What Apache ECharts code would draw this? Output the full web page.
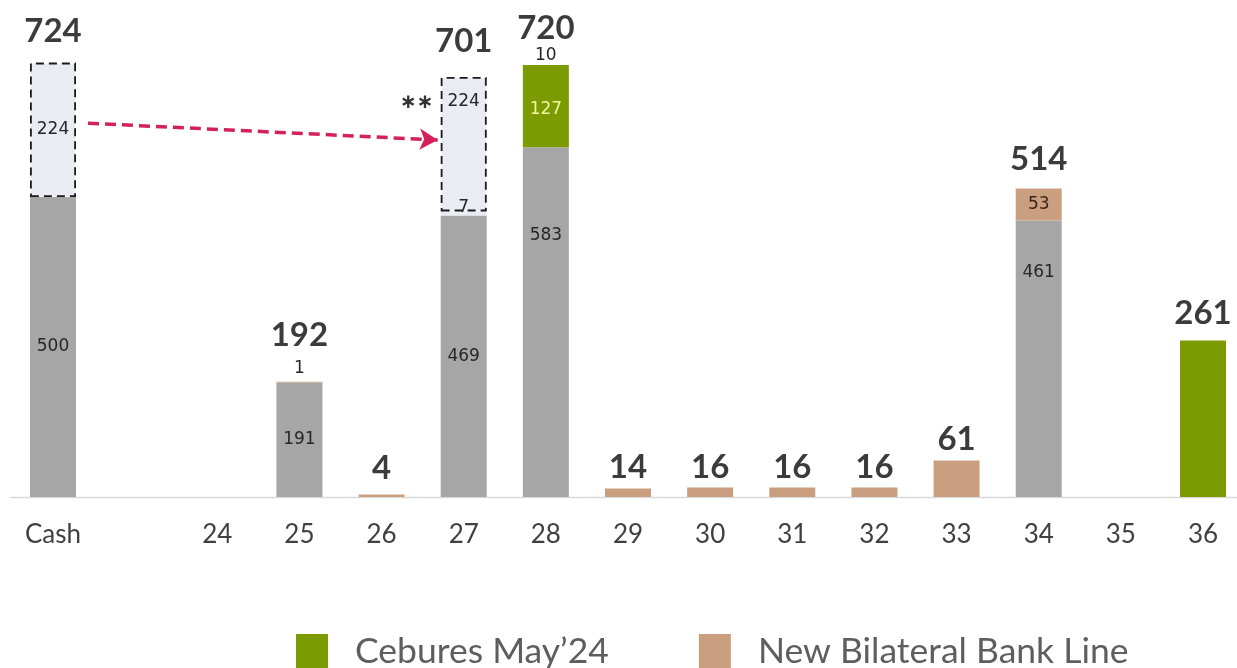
<!DOCTYPE html>
<html>
<head>
<meta charset="utf-8">
<script src="https://cdn.jsdelivr.net/npm/echarts@6/dist/echarts.min.js"></script>
<style>
  html, body { margin: 0; padding: 0; background: #ffffff; }
  #chart { width: 1237px; height: 668px; }
</style>
</head>
<body>
<div id="chart"></div>
<script>
// Debt maturity profile (USD mn) by year, with available cash
const categories = ['Cash', '', '24', '25', '26', '27', '28', '29', '30', '31', '32', '33', '34', '35', '36'];

// Existing maturities (grey)
const existing   = [500, null, null, 191, null, 469, 583, null, null, null, null, null, 461, null, null];
// Small amount sitting inside the dashed block of 2027
const residual   = [null, null, null, null, null, 7, null, null, null, null, null, null, null, null, null];
// Cash earmarked for the 2027 refinancing (dashed blocks)
const earmarked  = [224, null, null, null, null, 224, null, null, null, null, null, null, null, null, null];
// Cebures May'24
const cebures    = [null, null, null, null, null, null, 127, null, null, null, null, null, null, null, 261];
// Remaining tranche on top of 2028
const otherTop   = [null, null, null, null, null, null, 10, null, null, null, null, null, null, null, null];
// New bilateral bank line
const bilateral  = [null, null, null, 1, 4, null, null, 14, 16, 16, 16, 61, 53, null, null];
// Totals printed above each column
const totals     = [724, null, null, 192, 4, 701, 720, 14, 16, 16, 16, 61, 514, null, 261];

// Arrow from the cash block to the 2027 block
const arrowFrom = ['Cash', 623];
const arrowTo   = ['27', 595];
// Footnote marker next to the 2027 block
const noteMark  = { category: '27', value: 657, text: '∗∗' };

const GREY = '#A6A6A6';
const GREEN = '#7C9B02';
const TAN = '#C99F80';
const BOX = '#E9EDF3';
const SMALL_FONT = { fontFamily: 'DejaVu Sans', fontSize: 17, color: '#262626' };

// Per-column label tweaks (keyed by category index)
const existingLabelTweak = {
  6: { position: 'insideTop', distance: 80 },
  12: { position: 'insideTop', distance: 44 }
};
const earmarkedLabelTweak = {
  5: { position: 'insideTop', distance: 16 }
};
const totalsDistance = { 0: 15, 3: 30, 4: 10, 5: 19, 6: 20, 7: 5, 8: 4, 9: 4, 10: 4, 11: 5, 12: 13, 14: 11 };

function labelled(values, tweaks) {
  return values.map((v, i) => {
    if (v === null) return null;
    const item = { value: v };
    if (tweaks && tweaks[i]) item.label = Object.assign({ show: true }, tweaks[i]);
    return item;
  });
}

const chart = echarts.init(document.getElementById('chart'), null, { renderer: 'canvas' });

const option = {
  animation: false,
  backgroundColor: '#ffffff',
  grid: { left: 53, right: 34, top: 17, height: 480, containLabel: false },
  legend: {
    data: ['Cebures May’24', 'New Bilateral Bank Line'],
    left: 291,
    top: 629,
    icon: 'rect',
    itemWidth: 32,
    itemHeight: 36,
    itemGap: 90,
    textStyle: { fontFamily: 'Lato', fontSize: 35.5, color: '#5E5E5E', padding: [0, 0, 0, 22] }
  },
  xAxis: {
    type: 'category',
    data: categories,
    boundaryGap: false,
    axisLine: { show: false },
    axisTick: { show: false },
    axisLabel: { fontFamily: 'Lato', fontSize: 26, color: '#404040', margin: 25, interval: 0 }
  },
  yAxis: {
    type: 'value',
    min: 0,
    max: 800,
    show: false,
    splitLine: { show: false }
  },
  series: [
    {
      name: 'Existing',
      type: 'bar',
      stack: 'total',
      barWidth: 46,
      itemStyle: { color: GREY },
      label: Object.assign({ show: true, position: 'inside' }, SMALL_FONT),
      data: labelled(existing, existingLabelTweak)
    },
    {
      name: 'Residual',
      type: 'bar',
      stack: 'total',
      barWidth: 46,
      itemStyle: { color: BOX },
      label: Object.assign({ show: true, position: 'inside', offset: [0, -6] }, SMALL_FONT),
      data: residual
    },
    {
      name: 'Earmarked',
      type: 'bar',
      stack: 'total',
      barWidth: 46,
      itemStyle: { color: BOX, borderColor: '#1A1A1A', borderWidth: 1.8, borderType: [8, 5] },
      label: Object.assign({ show: true, position: 'inside' }, SMALL_FONT),
      data: labelled(earmarked, earmarkedLabelTweak),
      markPoint: {
        symbol: 'circle',
        symbolSize: 0,
        label: {
          show: true,
          formatter: noteMark.text,
          offset: [-47, 0],
          fontFamily: 'DejaVu Sans',
          fontWeight: 'bold',
          fontSize: 20,
          color: '#333333'
        },
        data: [{ coord: [noteMark.category, noteMark.value] }]
      }
    },
    {
      name: 'Cebures May’24',
      type: 'bar',
      stack: 'total',
      barWidth: 46,
      itemStyle: { color: GREEN },
      label: Object.assign({}, SMALL_FONT, { show: true, position: 'inside', color: '#EEF59A' }),
      data: cebures.map((v, i) => {
        if (v === null) return null;
        return i === 14 ? { value: v, label: { show: false } } : { value: v };
      })
    },
    {
      name: 'Other',
      type: 'bar',
      stack: 'total',
      barWidth: 46,
      itemStyle: { color: GREEN },
      label: Object.assign({ show: true, position: 'top', distance: 1 }, SMALL_FONT),
      data: otherTop
    },
    {
      name: 'New Bilateral Bank Line',
      type: 'bar',
      stack: 'total',
      barWidth: 46,
      itemStyle: { color: TAN },
      label: Object.assign({ show: false }, SMALL_FONT),
      data: bilateral.map((v, i) => {
        if (v === null) return null;
        if (i === 3) return { value: v, label: { show: true, position: 'top', distance: 5 } };
        if (i === 12) return { value: v, label: { show: true, position: 'inside', color: '#3A2418' } };
        return { value: v };
      })
    },
    {
      name: 'Total',
      type: 'scatter',
      symbolSize: 0,
      z: 10,
      label: {
        show: true,
        position: 'top',
        fontFamily: 'Lato',
        fontWeight: 'bold',
        fontSize: 33,
        color: '#0A0A0A'
      },
      data: totals.map((v, i) => {
        if (v === null) return null;
        return { value: v, label: { distance: totalsDistance[i] !== undefined ? totalsDistance[i] : 8 } };
      })
    }
  ]
};

chart.setOption(option);

// Baseline across the full width, and the dashed arrow between the two dashed blocks
const zero = chart.convertToPixel({ xAxisIndex: 0, yAxisIndex: 0 }, ['Cash', 0]);
const p0 = chart.convertToPixel({ xAxisIndex: 0, yAxisIndex: 0 }, arrowFrom);
const p1 = chart.convertToPixel({ xAxisIndex: 0, yAxisIndex: 0 }, arrowTo);
chart.setOption({
  graphic: [{
    type: 'line',
    z: 0,
    shape: { x1: 10, y1: Math.round(zero[1]) + 0.5, x2: 1237, y2: Math.round(zero[1]) + 0.5 },
    style: { stroke: '#D9D9D9', lineWidth: 1.5 }
  }],
  series: [{
    name: 'Earmarked',
    markLine: {
      silent: true,
      symbol: ['none', 'arrow'],
      symbolSize: [16, 18],
      label: { show: false },
      lineStyle: { color: '#D3215A', width: 3.5, type: [11, 6] },
      data: [[{ x: p0[0] + 35, y: p0[1] }, { x: p1[0] - 26, y: p1[1] }]]
    }
  }]
});
</script>
</body>
</html>
